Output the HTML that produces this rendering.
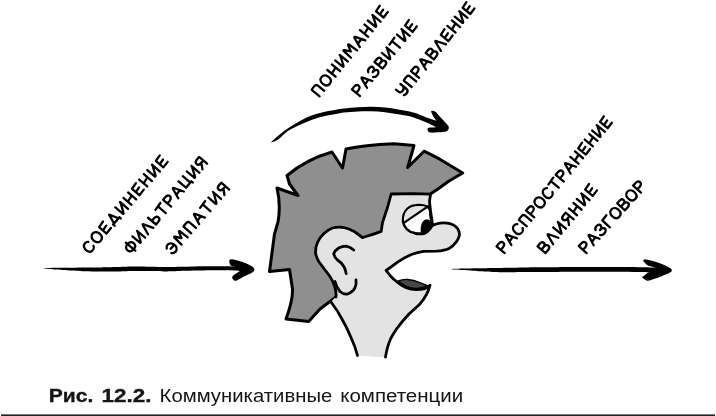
<!DOCTYPE html>
<html lang="ru">
<head>
<meta charset="utf-8">
<title>Рис. 12.2. Коммуникативные компетенции</title>
<style>
html,body{margin:0;padding:0;background:#fff;}
body{width:716px;height:416px;overflow:hidden;position:relative;font-family:"Liberation Sans",sans-serif;}
svg{position:absolute;left:0;top:0;display:block;will-change:transform;}
</style>
</head>
<body>
<svg width="716" height="416" viewBox="0 0 716 416">
<rect x="1" y="414.4" width="714" height="1.6" fill="#222"/>
<!-- hair -->
<path id="hair" fill="#8f8f8f" stroke="#000" stroke-width="3" stroke-linejoin="round"
 d="M287 175.5 Q307 159 332 152 L342.5 168 L346 149 Q364 145 394 143.7 L414 145.5 L407.7 167.5 L424 151.2 L439 158.7 L462.7 173
    L449 181 L436.5 190 L429.5 194.5 L415 215 L375 260 L348 285 L336 297 L320 309 L308.7 321.5 L286 319 Q293 300 292.5 289 L289.5 269.5 L269.5 271.5
    L272.5 249 L274.5 234 L278 222 Q281 205 277 188 L298 195.5 L289.5 184 Z"/>
<!-- face fill -->
<path id="facefill" fill="#e3e3e3" stroke="none"
 d="M430.5 194.1 L429.5 201.4 L430.5 211 L432 220.6 L432.4 225.4 Q436 223.8 440 223.2 Q445 222.6 449.7 223.5 Q455 225 457.6 228.5 Q459.8 232 459.3 235.5
    Q458.6 239 456.4 241.8 Q453.5 246 449 248.5 Q445 250.6 436.5 251.2 L423.5 251.4 Q417 252.4 412 254.3 Q404 257.6 397.6 262.2 L386.1 270.5
    L390.4 275.9 Q393.5 279.6 397.6 282.4 Q401.6 285.6 406.3 287.8 Q411 289.6 416.3 289.6 Q421 289.6 425 288.6 L430 285.3
    Q428.6 290.5 426.4 294.7 Q423.6 300 419.2 304.8 L409 314 Q402 321.5 396.5 329 Q393.4 333.6 391 338 Q388.8 342.6 387.5 347.5 Q386.2 352.4 385.5 357.5
    L357.5 355.5 Q355 346 351 337.5 Q347.3 328.5 342.5 320 Q338 311 331 302
    L336 296.5 Q336.4 292 335 287.7 Q333.4 281.6 330 276.5 L318.7 261.5 Q316 257 315.5 252.5 Q315.4 247 317.5 242.5 Q319.8 237.4 323.7 233.7 Q327.6 229.8 332.5 228
    Q338 226.6 343.7 227.5 Q349 228.6 353.7 231.2 L362.5 237.5 L372.5 233.7 L381.2 231.2 L382.5 222.5 L387.5 207.5 L391.2 193.7 L414 193.7 Z"/>
<!-- eye -->
<path id="eye" fill="#fff" stroke="#000" stroke-width="2.5"
 d="M403 221.6 Q402.6 213 407.6 208.6 Q411.6 205.2 416 205.2 Q422 204.6 427.6 206.6 L430 210 L431.5 226 Q429 231.6 424.7 233.1 Q420 234.2 415 233.1 Q410 232.4 407 229.4 Q403.6 226 403 221.6 Z"/>
<path id="lid" fill="#e3e3e3" stroke="none"
 d="M404 221.6 Q403.6 213.4 408.2 209.3 Q412 206.2 416 206.2 Q422 205.6 427 207.2 L404.8 222.2 Z"/>
<path id="lidline" fill="none" stroke="#000" stroke-width="2.2" stroke-linecap="round" d="M404.2 222.6 L428 206.4"/>
<path id="pupil" fill="#000" stroke="none" d="M420.8 232.4 Q420.2 226 422.4 222 Q424.6 219 427.6 219.4 Q430.4 219.8 431.6 223 L432.6 229 L427 233.4 Z"/>
<!-- nose cover patch -->
<path fill="#e3e3e3" stroke="none" d="M432.4 225.4 Q436 223.8 440 223.2 L450 230 L440 245 L410 245 L410 234.4 L415 233.7 Q420 234.8 424.7 233.7 Q429 231.4 432.4 225.4 Z"/>
<!-- outlines -->
<g fill="none" stroke="#000" stroke-width="2.8" stroke-linecap="round" stroke-linejoin="round">
 <!-- hairline -->
 <path d="M362.5 237.5 Q372 235 381.2 231.4 L382.5 222.5 L387.5 207.5 L391.2 194 L414 193.7 L430.5 194.1"/>
 <!-- face front, nose, mouth upper -->
 <path d="M430.5 194.1 L429.5 201.4 L430.5 211 L432 220.6 L432.4 225.4"/>
 <path d="M415 233.3 Q420 234.4 424.7 233.3 Q429 231.4 432.4 225.4 Q436 223.8 440 223.2 Q445 222.6 449.7 223.5 Q455 225 457.6 228.5 Q459.8 232 459.3 235.5
    Q458.6 239 456.4 241.8 Q453.5 246 449 248.5 Q445 250.6 436.5 251.2 L423.5 251.4 Q417 252.4 412 254.3 Q404 257.6 397.6 262.2 L386.1 270.5
    L390.4 275.9 Q393.5 279.6 397.6 282.4 Q401.6 285.6 406.3 287.8 Q411 289.6 416.3 289.6 Q421 289.6 425 288.6 L430 285.3
    Q428.6 290.5 426.4 294.7 Q423.6 300 419.2 304.8 L409 314 Q402 321.5 396.5 329 Q393.4 333.6 391 338 Q388.8 342.6 387.5 347.5 Q386.2 352.4 385.5 357"/>
 <!-- neck left -->
 <path d="M357.5 355.5 Q355 346 351 337.5 Q347.3 328.5 342.5 320 Q338 311 331 302"/>
 <!-- ear outer -->
 <path d="M336 297 Q336.4 292 335 287.7 Q333.4 281.6 330 276.5 L318.7 261.5 Q316 257 315.5 252.5 Q315.4 247 317.5 242.5 Q319.8 237.4 323.7 233.7 Q327.6 229.8 332.5 228
    Q338 226.6 343.7 227.5 Q349 228.6 353.7 231.2 L362.5 237.5"/>
 <!-- ear lobe -->
 <path d="M335 281.5 Q336.6 287.6 340 291.5 Q343.4 294.6 347.5 294 Q352.4 292.4 355 287.7 Q356.6 284 356 280"/>
 <!-- inner ear -->
 <path d="M353.7 250 Q350.4 247 346.2 246.2 Q342 246.2 338.7 248 Q335 250.4 333.7 253.7 Q334.4 257.4 337.5 260 Q341.4 262.6 343.7 266.2 Q345.8 269.8 346.2 273.7"/>
</g>
<!-- tongue -->
<path fill="#484848" stroke="#000" stroke-width="1.4" stroke-linejoin="round" d="M398.3 281 Q403 279 407.7 279.5 Q414 280.2 419.2 282.4 Q424 284.2 427.6 285.6 Q421 288.4 416.3 288.4 Q411 288.4 406.3 286.4 Q402 284.4 398.3 281 Z"/>

<!-- arrows -->
<g fill="#000" stroke="none">
<path d="M271.40 142.00 C272.37 141.00 274.43 138.90 277.20 136.60 C279.97 134.30 284.20 130.80 288.00 128.20 C291.80 125.60 296.00 123.15 300.00 121.00 C304.00 118.85 308.00 116.82 312.00 115.30 C316.00 113.78 320.00 112.83 324.00 111.90 C328.00 110.97 332.67 110.27 336.00 109.70 C339.33 109.13 340.33 108.92 344.00 108.50 C347.67 108.08 353.47 107.50 358.00 107.20 C362.53 106.90 366.70 106.65 371.20 106.70 C375.70 106.75 380.53 107.05 385.00 107.50 C389.47 107.95 393.90 108.73 398.00 109.40 C402.10 110.07 406.07 110.67 409.60 111.50 C413.13 112.33 416.00 113.27 419.20 114.40 C422.40 115.53 426.07 117.27 428.80 118.30 C431.53 119.33 433.57 119.73 435.60 120.60 C437.63 121.47 440.10 122.17 441.00 123.50 C441.90 124.83 441.75 127.97 441.00 128.60 C440.25 129.23 438.53 128.13 436.50 127.30 C434.47 126.47 431.68 124.88 428.80 123.60 C425.92 122.32 422.40 120.82 419.20 119.60 C416.00 118.38 413.13 117.20 409.60 116.30 C406.07 115.40 402.10 114.88 398.00 114.20 C393.90 113.52 389.47 112.68 385.00 112.20 C380.53 111.72 375.70 111.43 371.20 111.30 C366.70 111.17 362.53 111.18 358.00 111.40 C353.47 111.62 347.67 112.17 344.00 112.60 C340.33 113.03 339.33 113.40 336.00 114.00 C332.67 114.60 328.00 115.25 324.00 116.20 C320.00 117.15 316.00 118.27 312.00 119.70 C308.00 121.13 304.00 122.92 300.00 124.80 C296.00 126.68 291.60 128.58 288.00 131.00 C284.40 133.42 281.17 137.37 278.40 139.30 C275.63 141.23 272.57 142.15 271.40 142.60 C270.23 143.05 270.43 143.00 271.40 142.00 Z"/>
<path d="M431.20 111.20 C431.33 110.53 432.87 110.74 433.60 110.90 C434.34 111.06 434.95 111.19 436.10 112.30 C437.25 113.41 439.75 116.61 441.30 118.30 C442.85 119.99 445.30 122.35 446.40 123.60 C447.50 124.84 448.27 125.79 448.60 126.60 C448.93 127.41 448.96 128.28 448.60 129.00 C448.24 129.72 447.71 130.91 446.20 131.40 C444.69 131.90 440.75 132.12 438.50 132.30 C436.25 132.48 432.75 132.73 431.20 132.60 C429.65 132.47 428.74 132.03 428.20 131.40 C427.66 130.77 427.33 128.97 427.60 128.40 C427.87 127.83 428.67 127.82 430.00 127.60 C431.33 127.38 435.36 127.50 436.50 126.90 C437.64 126.30 437.74 124.68 437.60 123.60 C437.47 122.52 436.34 120.93 435.60 119.70 C434.87 118.47 433.36 116.68 432.70 115.40 C432.04 114.12 431.06 111.88 431.20 111.20 Z"/>
<path d="M44.90 268.40 C46.12 268.26 52.39 267.78 55.40 267.70 C58.41 267.62 67.12 267.72 70.70 267.70 C74.28 267.68 82.52 267.54 86.10 267.50 C89.68 267.46 97.82 267.46 101.40 267.40 C104.98 267.34 113.21 267.11 116.80 267.00 C120.39 266.89 128.33 266.54 132.20 266.50 C136.07 266.46 146.13 266.64 150.00 266.70 C153.87 266.76 161.82 267.00 165.40 267.00 C168.98 267.00 177.13 266.77 180.70 266.70 C184.27 266.63 192.42 266.45 196.00 266.40 C199.58 266.35 207.81 266.31 211.40 266.30 C214.99 266.29 223.93 266.26 226.80 266.30 C229.67 266.34 233.88 266.52 236.00 266.60 C238.12 266.68 243.95 266.49 245.00 267.00 C246.05 267.51 245.65 270.55 245.00 271.00 C244.35 271.45 241.52 270.98 239.40 270.90 C237.28 270.82 230.07 270.37 226.80 270.30 C223.53 270.23 214.99 270.26 211.40 270.30 C207.81 270.34 199.58 270.52 196.00 270.60 C192.42 270.68 184.27 270.91 180.70 271.00 C177.13 271.09 168.98 271.40 165.40 271.40 C161.82 271.40 153.87 271.06 150.00 271.00 C146.13 270.94 136.07 270.85 132.20 270.90 C128.33 270.95 120.39 271.32 116.80 271.40 C113.21 271.48 104.98 271.61 101.40 271.60 C97.82 271.59 89.68 271.43 86.10 271.30 C82.52 271.17 74.28 270.72 70.70 270.50 C67.12 270.28 58.41 269.59 55.40 269.40 C52.39 269.21 46.12 269.02 44.90 268.90 C43.67 268.78 43.67 268.54 44.90 268.40 Z"/>
<path d="M229.30 260.60 C229.45 259.84 230.35 259.47 231.00 259.30 C231.65 259.13 231.75 259.06 233.60 259.50 C235.44 259.94 240.69 261.25 243.30 262.20 C245.91 263.14 249.38 264.87 251.00 265.80 C252.62 266.73 253.63 267.65 254.10 268.40 C254.56 269.15 254.43 270.14 254.10 270.80 C253.77 271.46 253.67 271.80 251.90 272.80 C250.13 273.81 244.60 276.33 242.30 277.50 C240.00 278.67 237.81 280.17 236.60 280.60 C235.38 281.04 234.83 280.70 234.20 280.40 C233.57 280.10 232.67 279.20 232.40 278.60 C232.13 278.00 232.07 277.03 232.40 276.40 C232.73 275.77 233.49 275.21 234.60 274.40 C235.71 273.59 238.90 271.87 239.80 271.00 C240.70 270.13 241.17 269.20 240.60 268.60 C240.03 268.00 237.34 267.36 236.00 267.00 C234.66 266.64 232.60 266.59 231.70 266.20 C230.80 265.81 230.36 265.24 230.00 264.40 C229.64 263.56 229.15 261.37 229.30 260.60 Z"/>
<path d="M452.60 269.00 C453.86 268.89 460.35 268.68 463.40 268.60 C466.44 268.52 475.12 268.37 478.70 268.30 C482.28 268.23 490.52 268.07 494.10 268.00 C497.68 267.93 505.82 267.77 509.40 267.70 C512.98 267.63 521.21 267.46 524.80 267.40 C528.39 267.34 536.33 267.22 540.20 267.20 C544.07 267.18 552.34 267.21 558.00 267.20 C563.66 267.19 581.54 267.11 588.70 267.10 C595.86 267.09 613.12 267.08 619.40 267.10 C625.68 267.12 638.35 267.24 642.50 267.30 C646.65 267.36 652.73 267.52 655.00 267.60 C657.27 267.68 661.18 267.44 662.00 268.00 C662.82 268.56 663.58 271.88 662.00 272.40 C660.42 272.92 650.77 272.53 648.50 272.50 C646.23 272.47 645.89 272.18 642.50 272.10 C639.11 272.02 625.68 271.84 619.40 271.80 C613.12 271.76 595.86 271.79 588.70 271.80 C581.54 271.81 563.66 271.88 558.00 271.90 C552.34 271.92 544.07 271.98 540.20 272.00 C536.33 272.02 528.39 272.06 524.80 272.10 C521.21 272.14 512.98 272.31 509.40 272.30 C505.82 272.29 497.68 272.12 494.10 272.00 C490.52 271.88 482.28 271.52 478.70 271.30 C475.12 271.08 466.44 270.31 463.40 270.10 C460.35 269.89 453.86 269.63 452.60 269.50 C451.34 269.37 451.34 269.11 452.60 269.00 Z"/>
<path d="M643.20 260.60 C643.19 260.19 643.65 259.58 644.40 259.50 C645.15 259.42 646.67 259.48 648.80 260.00 C650.93 260.52 657.83 262.49 660.40 263.40 C662.97 264.31 666.61 266.00 668.10 266.80 C669.59 267.60 671.13 268.81 671.60 269.40 C672.07 269.99 672.07 270.64 671.60 271.20 C671.13 271.76 669.85 272.77 668.10 273.60 C666.35 274.43 661.10 276.47 658.50 277.40 C655.90 278.33 650.19 280.20 648.60 280.60 C647.01 281.00 647.40 280.75 646.60 280.40 C645.80 280.05 643.16 278.45 642.60 278.00 C642.04 277.55 642.08 277.40 642.40 277.00 C642.72 276.60 644.20 275.59 645.00 275.00 C645.80 274.41 646.99 273.27 648.40 272.60 C649.81 271.93 654.64 270.65 655.60 270.00 C656.56 269.35 656.63 268.31 655.60 267.70 C654.57 267.09 649.38 266.08 647.90 265.40 C646.42 264.72 645.13 263.24 644.50 262.60 C643.87 261.96 643.21 261.01 643.20 260.60 Z"/>
</g>

<!-- hand lettering -->
<g fill="none" stroke="#000" stroke-linecap="round" stroke-linejoin="round">
<g transform="translate(88.40 246.80) rotate(-49.37)" stroke-width="2.30">
<path d="M 3.70 -3.25 C 2.38 -5.38 -1.32 -5.82 -3.04 -3.14 C -4.76 -0.22 -4.49 3.70 -1.59 5.15 C 0.66 6.16 3.04 5.15 4.10 3.25"/>
<path d="M 12.75 -5.38 C 9.58 -5.38 8.26 -2.58 8.26 0.00 C 8.26 2.69 9.58 5.38 12.75 5.38 C 15.92 5.38 17.25 2.69 17.25 0.00 C 17.25 -2.58 15.92 -5.38 12.75 -5.38 Z"/>
<path d="M 28.68 -5.38 L 21.94 -4.70 L 21.94 5.15 L 28.94 4.82 M 21.94 0.34 L 27.62 -0.22"/>
<path d="M 34.42 4.26 L 37.86 -5.26 L 41.30 4.26 M 32.97 4.26 L 42.75 4.26 M 33.10 4.26 L 33.10 6.27 M 42.62 4.26 L 42.62 6.27"/>
<path d="M 47.44 -5.26 L 47.44 4.48 Q 47.71 5.60 48.76 4.37 L 54.58 -4.59 M 54.58 -5.26 L 54.58 5.38"/>
<path d="M 59.93 -5.26 L 59.93 5.38 M 67.07 -5.26 L 67.07 5.38 M 59.93 0.56 L 67.07 -0.45"/>
<path d="M 79.16 -5.38 L 72.42 -4.70 L 72.42 5.15 L 79.42 4.82 M 72.42 0.34 L 78.10 -0.22"/>
<path d="M 84.11 -5.26 L 84.11 5.38 M 91.25 -5.26 L 91.25 5.38 M 84.11 0.56 L 91.25 -0.45"/>
<path d="M 96.60 -5.26 L 96.60 4.48 Q 96.87 5.60 97.92 4.37 L 103.74 -4.59 M 103.74 -5.26 L 103.74 5.38"/>
<path d="M 115.83 -5.38 L 109.09 -4.70 L 109.09 5.15 L 116.09 4.82 M 109.09 0.34 L 114.77 -0.22"/>
</g>
<g transform="translate(130.60 246.70) rotate(-50.05)" stroke-width="2.30">
<path d="M 0.00 -6.16 L 0.00 6.16 M 0.00 -4.14 C -3.30 -4.26 -4.76 -2.02 -4.76 0.00 C -4.76 2.24 -3.04 4.14 0.00 4.14 C 3.04 4.14 4.76 2.24 4.76 0.00 C 4.76 -2.13 3.17 -4.14 0.00 -4.14"/>
<path d="M 9.09 -5.26 L 9.09 4.48 Q 9.36 5.60 10.41 4.37 L 16.23 -4.59 M 16.23 -5.26 L 16.23 5.38"/>
<path d="M 20.70 5.38 L 24.40 -4.48 Q 24.92 -5.60 25.45 -4.48 L 29.02 5.38"/>
<path d="M 33.36 -5.26 L 33.36 5.26 L 36.79 5.26 C 39.70 5.26 40.36 3.70 40.36 2.46 C 40.36 1.12 39.30 -0.22 36.79 -0.22 L 33.36 -0.22"/>
<path d="M 44.17 -4.59 L 52.62 -5.26 M 48.39 -4.93 L 48.39 5.38"/>
<path d="M 56.83 5.38 L 56.83 -5.15 L 60.13 -5.15 C 63.17 -5.15 63.96 -3.58 63.96 -2.35 C 63.96 -0.90 62.91 0.45 60.13 0.45 L 56.83 0.45"/>
<path d="M 67.77 5.38 L 71.47 -4.48 Q 72.13 -5.94 72.79 -4.48 L 76.49 5.38 M 69.49 1.79 L 74.91 1.34"/>
<path d="M 80.83 -5.26 L 80.83 4.59 L 89.15 4.59 M 87.57 -5.26 L 87.57 4.59 M 89.15 4.59 L 89.15 6.61"/>
<path d="M 93.75 -5.26 L 93.75 4.48 Q 94.01 5.60 95.07 4.37 L 100.89 -4.59 M 100.89 -5.26 L 100.89 5.38"/>
<path d="M 112.75 5.38 L 112.75 -5.15 L 109.45 -5.15 C 106.68 -5.15 105.75 -3.70 105.75 -2.46 C 105.75 -1.12 106.81 0.22 109.45 0.22 L 112.75 0.22 M 109.85 0.22 L 105.49 5.38"/>
</g>
<g transform="translate(171.60 247.80) rotate(-49.09)" stroke-width="2.30">
<path d="M -3.70 -3.25 C -2.38 -5.38 1.45 -5.82 3.17 -3.14 C 4.76 -0.22 4.49 3.70 1.72 5.15 C -0.53 6.16 -3.04 5.15 -4.10 3.25 M -1.32 0.00 L 4.10 0.00"/>
<path d="M 8.94 5.38 L 9.60 -4.82 Q 9.99 -5.71 10.65 -4.59 L 13.69 1.12 L 16.73 -4.59 Q 17.40 -5.71 17.79 -4.82 L 18.45 5.38"/>
<path d="M 23.82 5.38 L 23.82 -4.82 Q 26.60 -5.38 29.24 -5.04 Q 30.96 -4.59 30.96 -2.69 L 30.96 5.38"/>
<path d="M 35.93 5.38 L 39.63 -4.48 Q 40.29 -5.94 40.95 -4.48 L 44.65 5.38 M 37.65 1.79 L 43.07 1.34"/>
<path d="M 48.83 -4.59 L 57.29 -5.26 M 53.06 -4.93 L 53.06 5.38"/>
<path d="M 62.13 -5.26 L 62.13 4.48 Q 62.39 5.60 63.45 4.37 L 69.27 -4.59 M 69.27 -5.26 L 69.27 5.38"/>
<path d="M 81.77 5.38 L 81.77 -5.15 L 78.47 -5.15 C 75.69 -5.15 74.77 -3.70 74.77 -2.46 C 74.77 -1.12 75.82 0.22 78.47 0.22 L 81.77 0.22 M 78.86 0.22 L 74.50 5.38"/>
</g>
<g transform="translate(317.70 90.10) rotate(-50.74)" stroke-width="2.30">
<path d="M -3.57 5.38 L -3.57 -4.82 Q -0.79 -5.38 1.85 -5.04 Q 3.57 -4.59 3.57 -2.69 L 3.57 5.38"/>
<path d="M 12.62 -5.38 C 9.45 -5.38 8.13 -2.58 8.13 0.00 C 8.13 2.69 9.45 5.38 12.62 5.38 C 15.80 5.38 17.12 2.69 17.12 0.00 C 17.12 -2.58 15.80 -5.38 12.62 -5.38 Z"/>
<path d="M 21.68 -5.26 L 21.68 5.38 M 28.82 -5.26 L 28.82 5.38 M 21.68 0.56 L 28.82 -0.45"/>
<path d="M 34.04 -5.26 L 34.04 4.48 Q 34.31 5.60 35.36 4.37 L 41.18 -4.59 M 41.18 -5.26 L 41.18 5.38"/>
<path d="M 46.14 5.38 L 46.80 -4.82 Q 47.19 -5.71 47.85 -4.59 L 50.89 1.12 L 53.93 -4.59 Q 54.59 -5.71 54.99 -4.82 L 55.65 5.38"/>
<path d="M 59.95 5.38 L 63.65 -4.48 Q 64.31 -5.94 64.97 -4.48 L 68.67 5.38 M 61.67 1.79 L 67.09 1.34"/>
<path d="M 73.24 -5.26 L 73.24 5.38 M 80.37 -5.26 L 80.37 5.38 M 73.24 0.56 L 80.37 -0.45"/>
<path d="M 85.60 -5.26 L 85.60 4.48 Q 85.86 5.60 86.92 4.37 L 92.73 -4.59 M 92.73 -5.26 L 92.73 5.38"/>
<path d="M 104.70 -5.38 L 97.96 -4.70 L 97.96 5.15 L 104.96 4.82 M 97.96 0.34 L 103.64 -0.22"/>
</g>
<g transform="translate(358.00 90.10) rotate(-50.49)" stroke-width="2.30">
<path d="M -3.30 5.38 L -3.30 -5.15 L 0.00 -5.15 C 3.04 -5.15 3.83 -3.58 3.83 -2.35 C 3.83 -0.90 2.78 0.45 0.00 0.45 L -3.30 0.45"/>
<path d="M 7.51 5.38 L 11.21 -4.48 Q 11.87 -5.94 12.53 -4.48 L 16.23 5.38 M 9.23 1.79 L 14.65 1.34"/>
<path d="M 20.30 -3.47 C 21.23 -4.93 23.21 -5.49 24.53 -5.26 C 26.52 -4.93 27.31 -3.81 27.18 -2.58 C 27.04 -1.12 25.46 -0.22 23.21 -0.11 C 25.99 0.00 27.84 1.12 27.71 2.69 C 27.57 4.48 25.46 5.49 23.48 5.38 C 21.63 5.26 20.30 4.48 19.78 3.36"/>
<path d="M 32.17 -5.15 L 32.17 5.26 L 36.01 5.26 C 38.92 5.26 39.71 3.81 39.71 2.58 C 39.71 1.12 38.39 -0.11 35.74 -0.11 L 32.17 -0.11 M 35.74 -0.11 C 37.86 -0.11 38.92 -1.34 38.92 -2.58 C 38.92 -3.92 37.99 -5.15 35.61 -5.15 L 32.17 -5.15"/>
<path d="M 43.91 -5.26 L 43.91 4.48 Q 44.18 5.60 45.23 4.37 L 51.05 -4.59 M 51.05 -5.26 L 51.05 5.38"/>
<path d="M 55.12 -4.59 L 63.58 -5.26 M 59.35 -4.93 L 59.35 5.38"/>
<path d="M 67.65 -5.26 L 67.65 4.48 Q 67.92 5.60 68.98 4.37 L 74.79 -4.59 M 74.79 -5.26 L 74.79 5.38"/>
<path d="M 86.40 -5.38 L 79.66 -4.70 L 79.66 5.15 L 86.66 4.82 M 79.66 0.34 L 85.34 -0.22"/>
</g>
<g transform="translate(402.30 90.10) rotate(-51.10)" stroke-width="2.30">
<path d="M -3.70 -5.26 L -3.57 -1.79 Q -3.17 0.78 -0.26 0.78 Q 2.91 0.56 3.57 -2.24 M 3.57 -5.26 L 3.57 2.69 Q 3.30 5.38 0.26 5.38 Q -1.59 5.38 -2.91 4.37"/>
<path d="M 8.30 5.38 L 8.30 -4.82 Q 11.08 -5.38 13.72 -5.04 Q 15.44 -4.59 15.44 -2.69 L 15.44 5.38"/>
<path d="M 20.17 5.38 L 20.17 -5.15 L 23.47 -5.15 C 26.51 -5.15 27.31 -3.58 27.31 -2.35 C 27.31 -0.90 26.25 0.45 23.47 0.45 L 20.17 0.45"/>
<path d="M 30.85 5.38 L 34.55 -4.48 Q 35.21 -5.94 35.87 -4.48 L 39.57 5.38 M 32.57 1.79 L 37.99 1.34"/>
<path d="M 43.64 -5.15 L 43.64 5.26 L 47.48 5.26 C 50.38 5.26 51.18 3.81 51.18 2.58 C 51.18 1.12 49.86 -0.11 47.21 -0.11 L 43.64 -0.11 M 47.21 -0.11 C 49.33 -0.11 50.38 -1.34 50.38 -2.58 C 50.38 -3.92 49.46 -5.15 47.08 -5.15 L 43.64 -5.15"/>
<path d="M 54.72 5.38 L 58.42 -4.48 Q 58.95 -5.60 59.48 -4.48 L 63.05 5.38"/>
<path d="M 73.86 -5.38 L 67.12 -4.70 L 67.12 5.15 L 74.12 4.82 M 67.12 0.34 L 72.80 -0.22"/>
<path d="M 78.20 -5.26 L 78.20 5.38 M 85.33 -5.26 L 85.33 5.38 M 78.20 0.56 L 85.33 -0.45"/>
<path d="M 90.06 -5.26 L 90.06 4.48 Q 90.33 5.60 91.39 4.37 L 97.20 -4.59 M 97.20 -5.26 L 97.20 5.38"/>
<path d="M 108.67 -5.38 L 101.93 -4.70 L 101.93 5.15 L 108.94 4.82 M 101.93 0.34 L 107.62 -0.22"/>
</g>
<g transform="translate(502.60 247.10) rotate(-50.39)" stroke-width="2.30">
<path d="M -3.30 5.38 L -3.30 -5.15 L 0.00 -5.15 C 3.04 -5.15 3.83 -3.58 3.83 -2.35 C 3.83 -0.90 2.78 0.45 0.00 0.45 L -3.30 0.45"/>
<path d="M 7.18 5.38 L 10.88 -4.48 Q 11.54 -5.94 12.20 -4.48 L 15.90 5.38 M 8.90 1.79 L 14.32 1.34"/>
<path d="M 27.05 -3.25 C 25.73 -5.38 22.03 -5.82 20.31 -3.14 C 18.59 -0.22 18.86 3.70 21.76 5.15 C 24.01 6.16 26.39 5.15 27.45 3.25"/>
<path d="M 31.46 5.38 L 31.46 -4.82 Q 34.23 -5.38 36.87 -5.04 Q 38.59 -4.59 38.59 -2.69 L 38.59 5.38"/>
<path d="M 43.13 5.38 L 43.13 -5.15 L 46.43 -5.15 C 49.47 -5.15 50.27 -3.58 50.27 -2.35 C 50.27 -0.90 49.21 0.45 46.43 0.45 L 43.13 0.45"/>
<path d="M 58.11 -5.38 C 54.94 -5.38 53.61 -2.58 53.61 0.00 C 53.61 2.69 54.94 5.38 58.11 5.38 C 61.28 5.38 62.60 2.69 62.60 0.00 C 62.60 -2.58 61.28 -5.38 58.11 -5.38 Z"/>
<path d="M 73.75 -3.25 C 72.43 -5.38 68.73 -5.82 67.01 -3.14 C 65.29 -0.22 65.55 3.70 68.46 5.15 C 70.71 6.16 73.09 5.15 74.14 3.25"/>
<path d="M 77.36 -4.59 L 85.82 -5.26 M 81.59 -4.93 L 81.59 5.38"/>
<path d="M 89.56 5.38 L 89.56 -5.15 L 92.87 -5.15 C 95.91 -5.15 96.70 -3.58 96.70 -2.35 C 96.70 -0.90 95.64 0.45 92.87 0.45 L 89.56 0.45"/>
<path d="M 100.05 5.38 L 103.75 -4.48 Q 104.41 -5.94 105.07 -4.48 L 108.77 5.38 M 101.77 1.79 L 107.18 1.34"/>
<path d="M 112.65 -5.26 L 112.65 5.38 M 119.78 -5.26 L 119.78 5.38 M 112.65 0.56 L 119.78 -0.45"/>
<path d="M 131.06 -5.38 L 124.32 -4.70 L 124.32 5.15 L 131.33 4.82 M 124.32 0.34 L 130.00 -0.22"/>
<path d="M 135.20 -5.26 L 135.20 5.38 M 142.34 -5.26 L 142.34 5.38 M 135.20 0.56 L 142.34 -0.45"/>
<path d="M 146.88 -5.26 L 146.88 4.48 Q 147.14 5.60 148.20 4.37 L 154.01 -4.59 M 154.01 -5.26 L 154.01 5.38"/>
<path d="M 165.29 -5.38 L 158.55 -4.70 L 158.55 5.15 L 165.56 4.82 M 158.55 0.34 L 164.24 -0.22"/>
</g>
<g transform="translate(543.70 247.10) rotate(-50.38)" stroke-width="2.30">
<path d="M -3.44 -5.15 L -3.44 5.26 L 0.40 5.26 C 3.30 5.26 4.10 3.81 4.10 2.58 C 4.10 1.12 2.78 -0.11 0.13 -0.11 L -3.44 -0.11 M 0.13 -0.11 C 2.25 -0.11 3.30 -1.34 3.30 -2.58 C 3.30 -3.92 2.38 -5.15 0.00 -5.15 L -3.44 -5.15"/>
<path d="M 8.21 5.38 L 11.91 -4.48 Q 12.44 -5.60 12.97 -4.48 L 16.54 5.38"/>
<path d="M 21.19 -5.26 L 21.19 4.48 Q 21.45 5.60 22.51 4.37 L 28.32 -4.59 M 28.32 -5.26 L 28.32 5.38"/>
<path d="M 40.50 5.38 L 40.50 -5.15 L 37.20 -5.15 C 34.42 -5.15 33.50 -3.70 33.50 -2.46 C 33.50 -1.12 34.55 0.22 37.20 0.22 L 40.50 0.22 M 37.59 0.22 L 33.23 5.38"/>
<path d="M 45.81 -5.26 L 45.81 5.38 M 52.94 -5.26 L 52.94 5.38 M 45.81 0.56 L 52.94 -0.45"/>
<path d="M 58.25 -5.26 L 58.25 4.48 Q 58.51 5.60 59.57 4.37 L 65.39 -4.59 M 65.39 -5.26 L 65.39 5.38"/>
<path d="M 77.43 -5.38 L 70.69 -4.70 L 70.69 5.15 L 77.70 4.82 M 70.69 0.34 L 76.38 -0.22"/>
</g>
<g transform="translate(584.80 247.10) rotate(-48.04)" stroke-width="2.30">
<path d="M -3.30 5.38 L -3.30 -5.15 L 0.00 -5.15 C 3.04 -5.15 3.83 -3.58 3.83 -2.35 C 3.83 -0.90 2.78 0.45 0.00 0.45 L -3.30 0.45"/>
<path d="M 7.28 5.38 L 10.98 -4.48 Q 11.64 -5.94 12.30 -4.48 L 16.00 5.38 M 9.00 1.79 L 14.42 1.34"/>
<path d="M 19.85 -3.47 C 20.77 -4.93 22.76 -5.49 24.08 -5.26 C 26.06 -4.93 26.85 -3.81 26.72 -2.58 C 26.59 -1.12 25.00 -0.22 22.76 -0.11 C 25.53 0.00 27.38 1.12 27.25 2.69 C 27.12 4.48 25.00 5.49 23.02 5.38 C 21.17 5.26 19.85 4.48 19.32 3.36"/>
<path d="M 31.49 5.38 L 31.49 -4.82 L 38.10 -5.26"/>
<path d="M 45.77 -5.38 C 42.60 -5.38 41.28 -2.58 41.28 0.00 C 41.28 2.69 42.60 5.38 45.77 5.38 C 48.95 5.38 50.27 2.69 50.27 0.00 C 50.27 -2.58 48.95 -5.38 45.77 -5.38 Z"/>
<path d="M 54.24 -5.15 L 54.24 5.26 L 58.08 5.26 C 60.98 5.26 61.78 3.81 61.78 2.58 C 61.78 1.12 60.46 -0.11 57.81 -0.11 L 54.24 -0.11 M 57.81 -0.11 C 59.93 -0.11 60.98 -1.34 60.98 -2.58 C 60.98 -3.92 60.06 -5.15 57.68 -5.15 L 54.24 -5.15"/>
<path d="M 69.59 -5.38 C 66.42 -5.38 65.09 -2.58 65.09 0.00 C 65.09 2.69 66.42 5.38 69.59 5.38 C 72.76 5.38 74.08 2.69 74.08 0.00 C 74.08 -2.58 72.76 -5.38 69.59 -5.38 Z"/>
<path d="M 78.06 5.38 L 78.06 -5.15 L 81.36 -5.15 C 84.40 -5.15 85.19 -3.58 85.19 -2.35 C 85.19 -0.90 84.14 0.45 81.36 0.45 L 78.06 0.45"/>
</g>
</g>
<!-- caption -->
<g font-family="'Liberation Sans', sans-serif" font-size="18.7" fill="#151515">
<text transform="translate(48.8 402.4) scale(1.125 1)" font-weight="bold" stroke="#151515" stroke-width="0.35">Рис.</text>
<text transform="translate(101.6 402.4) scale(1.2 1)" font-weight="bold" stroke="#151515" stroke-width="0.35">12.2.</text>
<text transform="translate(159.6 402.4) scale(1.086 1)">Коммуникативные</text>
<text transform="translate(340.2 402.4) scale(1.097 1)">компетенции</text>
</g>
</svg>
</body>
</html>
